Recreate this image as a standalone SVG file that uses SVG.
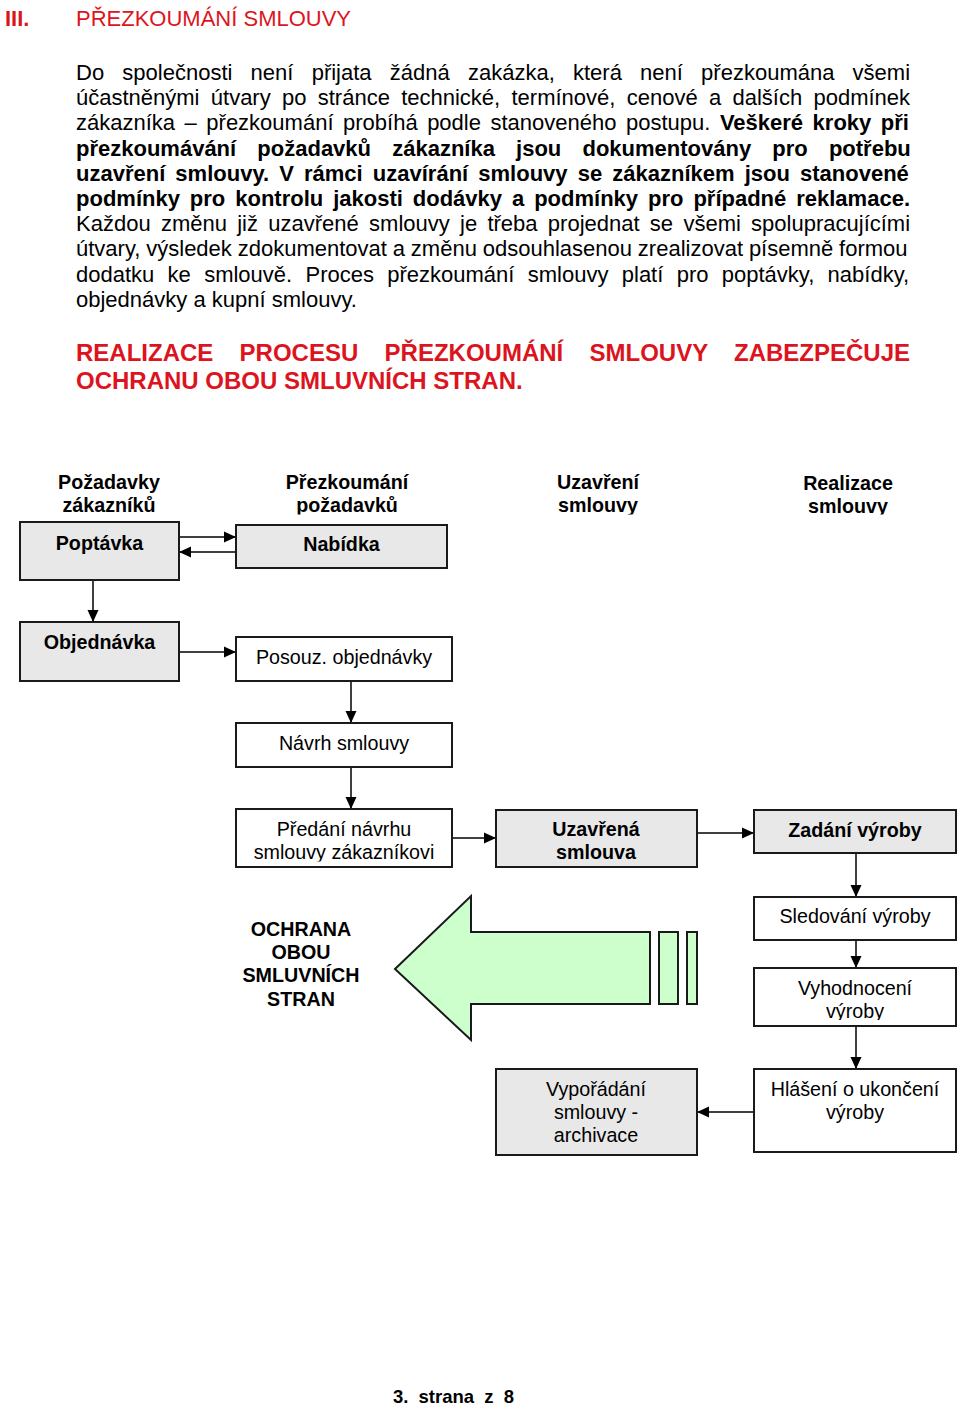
<svg xmlns="http://www.w3.org/2000/svg" width="960" height="1405" viewBox="0 0 960 1405">
<defs>
<style>
text{font-family:"Liberation Sans",Arial,sans-serif}
.p{font-size:22px;fill:#000}
.bd{font-weight:bold}
.red{fill:#dc1420}
.h{font-size:24px;font-weight:bold;fill:#dc1420}
.d{font-size:19.7px;fill:#000;text-anchor:middle}
.box{stroke:#1a1a1a;stroke-width:2}
.g{fill:#e8e8e8}
.w{fill:#fff}
.c{stroke:#000;stroke-width:1.5;fill:none;marker-end:url(#ah)}
</style>
<marker id="ah" markerUnits="userSpaceOnUse" markerWidth="12" markerHeight="12" refX="12" refY="6" orient="auto"><path d="M0,0.5 L12,6 L0,11.5 z" fill="#000"/></marker>
<clipPath id="clipHead"><rect x="0" y="460" width="960" height="54.5"/></clipPath>
<clipPath id="clipPredani"><rect x="236" y="809" width="216" height="52.5"/></clipPath>
<clipPath id="clipVyhod"><rect x="754" y="968" width="202" height="52"/></clipPath>
</defs>

<g id="title">
<text x="5" y="26" class="p bd red">III.</text>
<text x="76" y="26" class="p red">PŘEZKOUMÁNÍ SMLOUVY</text>
</g>

<g id="paragraph" class="p">
<text x="76" y="80" class="p" word-spacing="12.1">Do společnosti není přijata žádná zakázka, která není přezkoumána všemi</text>
<text x="76" y="105.2" class="p" word-spacing="5.17">účastněnými útvary po stránce technické, termínové, cenové a dalších podmínek</text>
<text x="76" y="130.4" class="p" word-spacing="3.4">zákazníka – přezkoumání probíhá podle stanoveného postupu. <tspan class="bd">Veškeré kroky při</tspan></text>
<text x="76" y="155.6" class="p bd" word-spacing="15.05">přezkoumávání požadavků zákazníka jsou dokumentovány pro potřebu</text>
<text x="76" y="180.8" class="p bd" word-spacing="4.0">uzavření smlouvy. V rámci uzavírání smlouvy se zákazníkem jsou stanovené</text>
<text x="76" y="206" class="p bd" word-spacing="3.83">podmínky pro kontrolu jakosti dodávky a podmínky pro případné reklamace.</text>
<text x="76" y="231.2" class="p" word-spacing="4.17">Každou změnu již uzavřené smlouvy je třeba projednat se všemi spolupracujícími</text>
<text x="76" y="256.4" class="p" word-spacing="-0.25">útvary, výsledek zdokumentovat a změnu odsouhlasenou zrealizovat písemně formou</text>
<text x="76" y="281.6" class="p" word-spacing="7.2">dodatku ke smlouvě. Proces přezkoumání smlouvy platí pro poptávky, nabídky,</text>
<text x="76" y="306.8" class="p">objednávky a kupní smlouvy.</text>
</g>

<g id="headline">
<text x="76" y="361" class="h" word-spacing="19.6">REALIZACE PROCESU PŘEZKOUMÁNÍ SMLOUVY ZABEZPEČUJE</text>
<text x="76" y="389" class="h">OCHRANU OBOU SMLUVNÍCH STRAN.</text>
</g>

<g id="column-headers" clip-path="url(#clipHead)">
<text class="d bd" x="109" y="489">Požadavky</text>
<text class="d bd" x="109" y="512">zákazníků</text>
<text class="d bd" x="347" y="489">Přezkoumání</text>
<text class="d bd" x="347" y="512">požadavků</text>
<text class="d bd" x="598" y="489">Uzavření</text>
<text class="d bd" x="598" y="512">smlouvy</text>
<text class="d bd" x="848" y="490">Realizace</text>
<text class="d bd" x="848" y="513">smlouvy</text>
</g>

<g id="connectors">
<line class="c" x1="179" y1="537" x2="236" y2="537"/>
<line class="c" x1="236" y1="552" x2="179" y2="552"/>
<line class="c" x1="93" y1="580" x2="93" y2="622"/>
<line class="c" x1="179" y1="652" x2="236" y2="652"/>
<line class="c" x1="351" y1="681" x2="351" y2="723"/>
<line class="c" x1="351" y1="767" x2="351" y2="809"/>
<line class="c" x1="452" y1="838" x2="496" y2="838"/>
<line class="c" x1="697" y1="833" x2="754" y2="833"/>
<line class="c" x1="856" y1="853" x2="856" y2="897"/>
<line class="c" x1="856" y1="940" x2="856" y2="968"/>
<line class="c" x1="856" y1="1026" x2="856" y2="1069"/>
<line class="c" x1="754" y1="1112" x2="697" y2="1112"/>
</g>

<g id="poptavka">
<rect class="box g" x="20" y="522" width="159" height="58"/>
<text class="d bd" x="99.5" y="550">Poptávka</text>
</g>
<g id="nabidka">
<rect class="box g" x="236" y="525" width="211" height="43"/>
<text class="d bd" x="341.5" y="551">Nabídka</text>
</g>
<g id="objednavka">
<rect class="box g" x="20" y="622" width="159" height="59"/>
<text class="d bd" x="99.5" y="649">Objednávka</text>
</g>
<g id="posouz">
<rect class="box w" x="236" y="637" width="216" height="44"/>
<text class="d" x="344" y="664">Posouz. objednávky</text>
</g>
<g id="navrh">
<rect class="box w" x="236" y="723" width="216" height="44"/>
<text class="d" x="344" y="750">Návrh smlouvy</text>
</g>
<g id="predani">
<rect class="box w" x="236" y="809" width="216" height="58"/>
<g clip-path="url(#clipPredani)">
<text class="d" x="344" y="836">Předání návrhu</text>
<text class="d" x="344" y="859">smlouvy zákazníkovi</text>
</g>
</g>
<g id="uzavrena">
<rect class="box g" x="496" y="810" width="201" height="57"/>
<text class="d bd" x="596" y="836">Uzavřená</text>
<text class="d bd" x="596" y="859">smlouva</text>
</g>
<g id="zadani">
<rect class="box g" x="754" y="810" width="202" height="43"/>
<text class="d bd" x="855" y="837">Zadání výroby</text>
</g>
<g id="sledovani">
<rect class="box w" x="754" y="897" width="202" height="43"/>
<text class="d" x="855" y="923">Sledování výroby</text>
</g>
<g id="vyhodnoceni">
<rect class="box w" x="754" y="968" width="202" height="58"/>
<g clip-path="url(#clipVyhod)">
<text class="d" x="855" y="995">Vyhodnocení</text>
<text class="d" x="855" y="1018">výroby</text>
</g>
</g>
<g id="hlaseni">
<rect class="box w" x="754" y="1069" width="202" height="83"/>
<text class="d" x="855" y="1096">Hlášení o ukončení</text>
<text class="d" x="855" y="1119">výroby</text>
</g>
<g id="vyporadani">
<rect class="box g" x="496" y="1069" width="201" height="86"/>
<text class="d" x="596" y="1096">Vypořádání</text>
<text class="d" x="596" y="1119">smlouvy -</text>
<text class="d" x="596" y="1142">archivace</text>
</g>

<g id="big-arrow">
<polygon points="395,969 471,896 471,932 650,932 650,1004 471,1004 471,1040" fill="#ccffcc" stroke="#1a1a1a" stroke-width="2"/>
<rect x="659" y="932" width="19" height="72" fill="#ccffcc" stroke="#1a1a1a" stroke-width="2"/>
<rect x="687" y="932" width="10" height="72" fill="#ccffcc" stroke="#1a1a1a" stroke-width="2"/>
</g>

<g id="ochrana">
<text class="d bd" x="301" y="936">OCHRANA</text>
<text class="d bd" x="301" y="959">OBOU</text>
<text class="d bd" x="301" y="982">SMLUVNÍCH</text>
<text class="d bd" x="301" y="1006">STRAN</text>
</g>

<g id="footer">
<text x="393" y="1403" font-size="18.5" font-weight="bold" word-spacing="5">3. strana z 8</text>
</g>
</svg>
